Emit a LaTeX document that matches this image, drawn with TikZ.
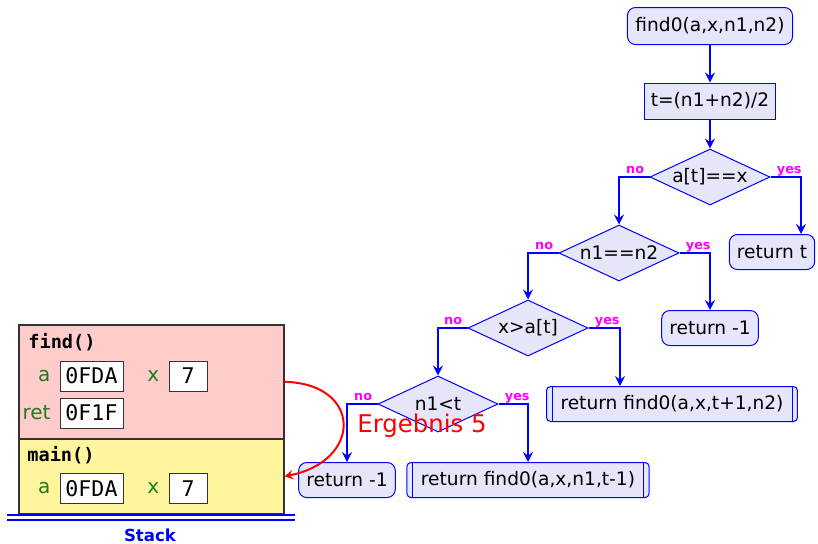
\documentclass[tikz,border=0pt]{standalone}
\usepackage{fontspec}
\setmainfont{DejaVu Sans}
\setmonofont{DejaVu Sans Mono}
\usetikzlibrary{arrows.meta,calc,positioning,shapes.geometric}
\definecolor{flow}{HTML}{0000FF}
\definecolor{boxfill}{HTML}{E6E6FA}
\definecolor{branch}{HTML}{FF00FF}
\definecolor{frameline}{HTML}{333333}
\definecolor{callframe}{HTML}{FFCCCC}
\definecolor{mainframe}{HTML}{FFF59D}
\definecolor{varname}{HTML}{1E7B1E}
\definecolor{result}{HTML}{FF0000}

\begin{document}
\begin{tikzpicture}[x=.5pt,y=-.5pt,
  txt/.style={font=\fontsize{9.3}{11}\selectfont,text=black},
  start/.style={txt,draw=flow,fill=boxfill,line width=.5pt,rounded corners=4pt,inner xsep=4pt,minimum height=18.5pt},
  action/.style={txt,draw=flow,fill=boxfill,line width=.5pt,inner xsep=3pt,minimum height=18pt},
  test/.style={txt,diamond,draw=flow,fill=boxfill,line width=.5pt,aspect=2,inner sep=0pt,minimum width=60pt,minimum height=28pt},
  leaf/.style={txt,draw=flow,fill=boxfill,line width=.5pt,rounded corners=4pt,inner xsep=3.8pt,minimum height=17.5pt},
  proc/.style={leaf,rounded corners=2pt,inner xsep=7pt,path picture={
    \draw[flow,line width=.5pt] ([xshift=2.8pt]path picture bounding box.north west)
      -- ([xshift=2.8pt]path picture bounding box.south west);
    \draw[flow,line width=.5pt] ([xshift=-2.6pt]path picture bounding box.north east)
      -- ([xshift=-2.6pt]path picture bounding box.south east);}},
  flowarrow/.style={draw=flow,line width=1.1pt,-{Stealth[length=5pt,width=5pt,inset=1.8pt]}},
  branchlabel/.style={text=branch,font=\fontsize{6.4}{7}\selectfont\bfseries,inner sep=0pt},
  frame/.style={draw=frameline,line width=.8pt,minimum width=132.5pt,anchor=north west,inner sep=0pt},
  value/.style={draw=frameline,fill=white,line width=.5pt,font=\fontsize{10.8}{12}\selectfont\ttfamily,minimum height=15pt,inner sep=0pt},
  var/.style={text=varname,font=\fontsize{10}{12}\selectfont,inner sep=0pt},
  fname/.style={font=\fontsize{9.3}{11}\selectfont\ttfamily\bfseries,anchor=west,inner sep=0pt}
]
\useasboundingbox (0,0) rectangle (818,543);
\node[start] (begin) at (710,26) {find0(a,x,n1,n2)};
\node[action] (mid) at (710,101) {t=(n1+n2)/2};
\node[test] (q1) at (710,177) {a[t]==x};
\node[test] (q2) at (619,253) {n1==n2};
\node[test] (q3) at (528,328) {x>a[t]};
\node[test] (q4) at (438,404) {n1<t};
\node[leaf] (r1) at (772,252) {return t};
\node[leaf] (r2) at (710,328) {return -1};
\node[proc] (r3) at (672,404) {return find0(a,x,t+1,n2)};
\node[leaf] (r4) at (347,480) {return -1};
\node[proc] (r5) at (528,480) {return find0(a,x,n1,t-1)};
\draw[flowarrow] (begin) -- (mid);
\draw[flowarrow] (mid) -- (q1);
\draw[flowarrow] (q1.west) -| (q2.north);
\draw[flowarrow] (q1.east) -| ([xshift=14.5pt]r1.north);
\draw[flowarrow] (q2.west) -| (q3.north);
\draw[flowarrow] (q2.east) -| (r2.north);
\draw[flowarrow] (q3.west) -| (q4.north);
\draw[flowarrow] (q3.east) -| ([xshift=-26pt]r3.north);
\draw[flowarrow] (q4.west) -| (r4.north);
\draw[flowarrow] (q4.east) -| (r5.north);
\node[branchlabel,anchor=base east] (no1) at ([xshift=-2.5pt,yshift=2pt]q1.west) {no};
\node[branchlabel,anchor=base west] (yes1) at ([xshift=3pt,yshift=2pt]q1.east) {yes};
\node[branchlabel,anchor=base east] (no2) at ([xshift=-2.5pt,yshift=2pt]q2.west) {no};
\node[branchlabel,anchor=base west] (yes2) at ([xshift=3pt,yshift=2pt]q2.east) {yes};
\node[branchlabel,anchor=base east] (no3) at ([xshift=-2.5pt,yshift=2pt]q3.west) {no};
\node[branchlabel,anchor=base west] (yes3) at ([xshift=3pt,yshift=2pt]q3.east) {yes};
\node[branchlabel,anchor=base east] (no4) at ([xshift=-2.5pt,yshift=2pt]q4.west) {no};
\node[branchlabel,anchor=base west] (yes4) at ([xshift=3pt,yshift=2pt]q4.east) {yes};
\node[text=result,font=\fontsize{12.2}{14}\selectfont,inner sep=0pt] (ergebnis) at (422,426) {Ergebnis 5};
\node[frame,fill=callframe,minimum height=57pt] (findframe) at (18,324) {};
\node[frame,fill=mainframe,minimum height=37.5pt] (mainframe) at (18,438) {};
\node[fname] (findname) at (28,342) {find()};
\node[value,minimum width=31.5pt] (finda) at (91.5,376) {0FDA};
\node[var,left=4.3pt of finda] (findavar) {a};
\node[value,minimum width=19pt] (findx) at (188,376) {7};
\node[var,left=4.5pt of findx] (findxvar) {x};
\node[value,minimum width=31.5pt] (findret) at (91.5,413) {0F1F};
\node[var,left=4.3pt of findret] (findretvar) {ret};
\node[fname] (mainname) at (27,455) {main()};
\node[value,minimum width=31.5pt] (maina) at (91.5,488.5) {0FDA};
\node[var,left=4.3pt of maina] (mainavar) {a};
\node[value,minimum width=19pt] (mainx) at (188,488.5) {7};
\node[var,left=4.5pt of mainx] (mainxvar) {x};
\draw[flow,line width=1pt] (7,515) -- (295,515);
\draw[flow,line width=1pt] (7,520) -- (295,520);
\node[text=flow,font=\fontsize{8.3}{10}\selectfont\bfseries] (stacklabel) at (150,535) {Stack};
\draw[result,line width=1pt,-{Stealth[length=4.5pt,width=5pt,inset=2pt]}]
  (findframe.east) .. controls ($(findframe.east)+(78,2)$) and ($(mainframe.east)+(78,-15)$) .. (mainframe.east);
\end{tikzpicture}
\end{document}
